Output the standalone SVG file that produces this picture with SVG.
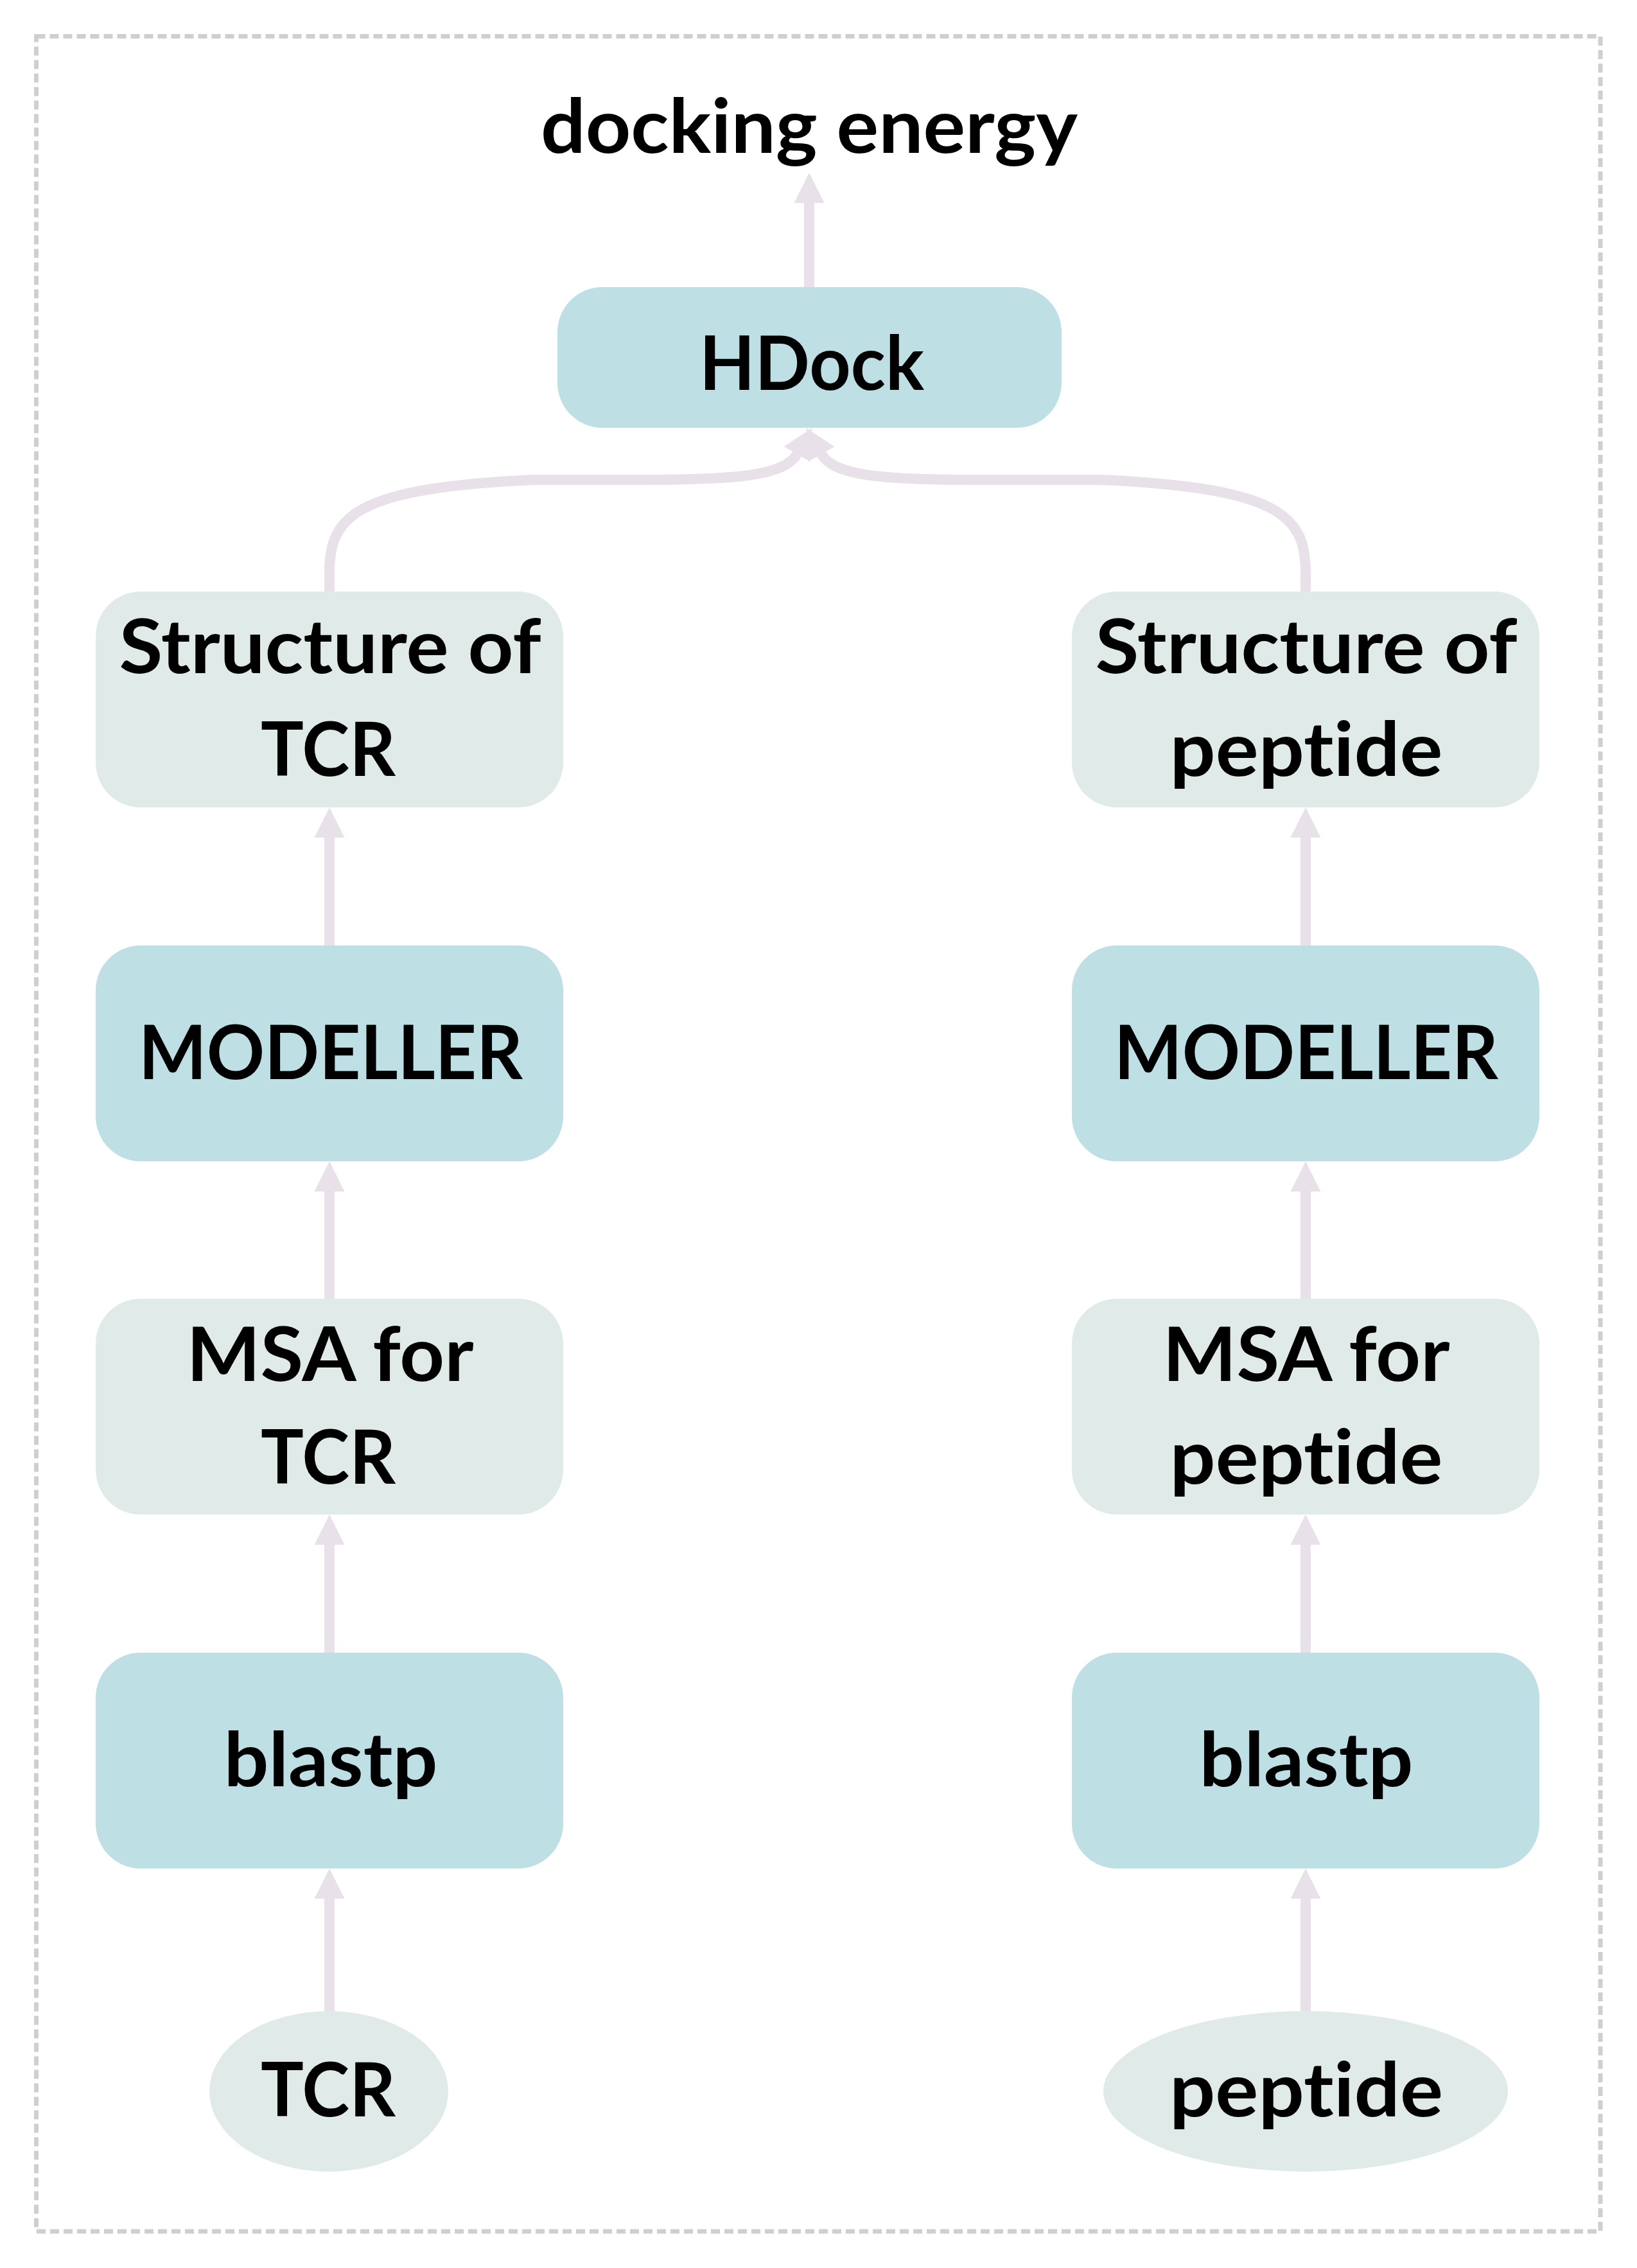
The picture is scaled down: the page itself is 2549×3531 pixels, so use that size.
<svg xmlns="http://www.w3.org/2000/svg" width="2549" height="3531" viewBox="0 0 2549 3531">
<style>
.bg{fill:#ffffff}
.frame{fill:none;stroke:#cfcfcf;stroke-width:7;stroke-dasharray:14 7}
.tool{fill:#bee0e5}
.data{fill:#e0ebe9}
.lbl{font-family:Lato,"Liberation Sans",sans-serif;font-weight:700;font-size:117px;fill:#000000;text-anchor:middle;font-variant-ligatures:none}
.edge{fill:none;stroke:#e8e1e9;stroke-width:16;marker-end:url(#ah)}
</style>
<defs>
<marker id="ah" markerUnits="userSpaceOnUse" markerWidth="48" markerHeight="48" refX="0" refY="24" orient="auto" overflow="visible">
<path d="M0,0.5 L47,24 L0,47.5 Z" fill="#e8e1e9"/>
</marker>
</defs>
<rect class="bg" x="0" y="0" width="2549" height="3531"/>
<rect class="frame" x="56.5" y="56.5" width="2435.5" height="3417.5"/>

<g id="connectors">
<path class="edge" d="M1260,447 L1260,316"/>
<path class="edge" d="M513,921 L513,890 C513,800 560,760 830,747 L1000,747 C1150,747 1222,740 1241,707"/>
<path class="edge" d="M2033,921 L2033,890 C2033,800 1986,760 1716,747 L1520,747 C1370,747 1298,740 1279,707"/>
<path class="edge" d="M513,1472 L513,1304"/>
<path class="edge" d="M513,2022 L513,1855"/>
<path class="edge" d="M513,2573 L513,2405"/>
<path class="edge" d="M513,3131 L513,2956"/>
<path class="edge" d="M2033,1472 L2033,1304"/>
<path class="edge" d="M2033,2022 L2033,1855"/>
<path class="edge" d="M2033,2573 L2033,2405"/>
<path class="edge" d="M2033,3131 L2033,2956"/>
</g>

<g id="docking_energy">
<text class="lbl" x="1260" y="238" textLength="836" lengthAdjust="spacingAndGlyphs">docking energy</text>
</g>

<g id="hdock">
<rect class="tool" x="868" y="447" width="785" height="219" rx="70" ry="70"/>
<text class="lbl" x="1264" y="607" textLength="350" lengthAdjust="spacingAndGlyphs">HDock</text>
</g>

<g id="structure_tcr">
<rect class="data" x="149" y="921" width="728" height="336" rx="70" ry="70"/>
<text class="lbl" x="514" y="1048" textLength="657" lengthAdjust="spacingAndGlyphs">Structure of</text>
<text class="lbl" x="511" y="1208" textLength="210" lengthAdjust="spacingAndGlyphs">TCR</text>
</g>

<g id="structure_peptide">
<rect class="data" x="1669" y="921" width="728" height="336" rx="70" ry="70"/>
<text class="lbl" x="2034" y="1048" textLength="657" lengthAdjust="spacingAndGlyphs">Structure of</text>
<text class="lbl" x="2034" y="1208" textLength="425" lengthAdjust="spacingAndGlyphs">peptide</text>
</g>

<g id="modeller_tcr">
<rect class="tool" x="149" y="1472" width="728" height="336" rx="70" ry="70"/>
<text class="lbl" x="515" y="1680" textLength="598" lengthAdjust="spacingAndGlyphs">MODELLER</text>
</g>

<g id="modeller_peptide">
<rect class="tool" x="1669" y="1472" width="728" height="336" rx="70" ry="70"/>
<text class="lbl" x="2034" y="1680" textLength="598" lengthAdjust="spacingAndGlyphs">MODELLER</text>
</g>

<g id="msa_tcr">
<rect class="data" x="149" y="2022" width="728" height="336" rx="70" ry="70"/>
<text class="lbl" x="514" y="2150" textLength="447" lengthAdjust="spacingAndGlyphs">MSA for</text>
<text class="lbl" x="511" y="2310" textLength="210" lengthAdjust="spacingAndGlyphs">TCR</text>
</g>

<g id="msa_peptide">
<rect class="data" x="1669" y="2022" width="728" height="336" rx="70" ry="70"/>
<text class="lbl" x="2034" y="2150" textLength="447" lengthAdjust="spacingAndGlyphs">MSA for</text>
<text class="lbl" x="2034" y="2310" textLength="425" lengthAdjust="spacingAndGlyphs">peptide</text>
</g>

<g id="blastp_tcr">
<rect class="tool" x="149" y="2573" width="728" height="336" rx="70" ry="70"/>
<text class="lbl" x="515" y="2781" textLength="333" lengthAdjust="spacingAndGlyphs">blastp</text>
</g>

<g id="blastp_peptide">
<rect class="tool" x="1669" y="2573" width="728" height="336" rx="70" ry="70"/>
<text class="lbl" x="2034" y="2781" textLength="333" lengthAdjust="spacingAndGlyphs">blastp</text>
</g>

<g id="tcr_input">
<ellipse class="data" cx="512" cy="3256" rx="186" ry="125"/>
<text class="lbl" x="511" y="3295" textLength="210" lengthAdjust="spacingAndGlyphs">TCR</text>
</g>

<g id="peptide_input">
<ellipse class="data" cx="2033" cy="3256" rx="315" ry="125"/>
<text class="lbl" x="2034" y="3295" textLength="426" lengthAdjust="spacingAndGlyphs">peptide</text>
</g>
</svg>
